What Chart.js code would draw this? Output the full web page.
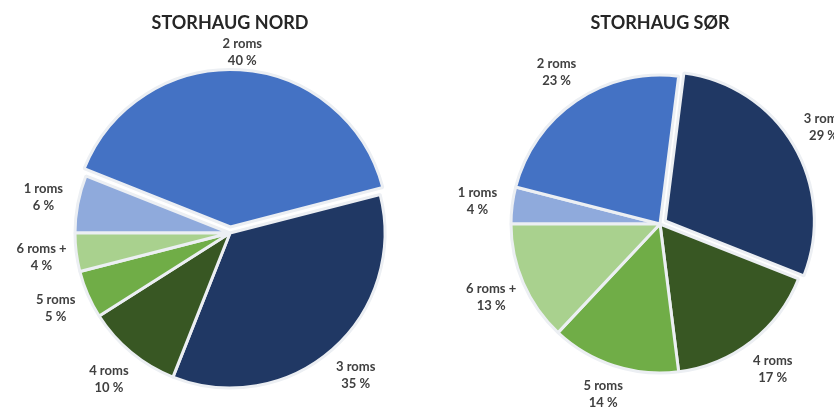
<!DOCTYPE html>
<html>
<head>
<meta charset="utf-8">
<script src="https://cdn.jsdelivr.net/npm/chart.js@4.4.0/dist/chart.umd.min.js"></script>
<style>
  body { margin: 0; background: #fff; overflow: hidden; }
  .wrap { position: absolute; top: 0; height: 408px; }
  #nordWrap { left: 0; width: 460px; }
  #sorWrap { left: 430px; width: 404px; }
</style>
</head>
<body>
<div class="wrap" id="nordWrap"><canvas id="nordChart"></canvas></div>
<div class="wrap" id="sorWrap"><canvas id="sorChart"></canvas></div>
<script>
var categories = ['1 roms', '2 roms', '3 roms', '4 roms', '5 roms', '6 roms +'];
var nordValues = [6, 40, 35, 10, 5, 4];
var sorValues = [4, 23, 29, 17, 14, 13];
var sliceColors = ['#8faadc', '#4472c4', '#203864', '#385723', '#70ad47', '#a9d18e'];

// labels outside each slice: name on one line, percent below
var sliceLabels = {
    id: 'sliceLabels',
    afterDatasetsDraw: function (chart) {
        var ctx = chart.ctx;
        var meta = chart.getDatasetMeta(0);
        var values = chart.data.datasets[0].data;
        ctx.save();
        ctx.font = 'bold 13px Lato';
        ctx.fillStyle = '#404040';
        ctx.textAlign = 'center';
        ctx.textBaseline = 'middle';
        meta.data.forEach(function (arc, i) {
            var p = arc.getProps(['x', 'y', 'startAngle', 'endAngle', 'outerRadius'], true);
            var mid = (p.startAngle + p.endAngle) / 2;
            var shift = (arc.options.offset || 0) / 4;
            var d = p.outerRadius + shift + 35;
            var cx = p.x + Math.cos(mid) * d;
            var cy = p.y + Math.sin(mid) * d;
            cy = Math.min(Math.max(cy, 52), 394); // keep inside the picture, below the title
            ctx.fillText(chart.data.labels[i], cx, cy - 8.5);
            ctx.fillText(values[i] + ' %', cx, cy + 8.5);
        });
        ctx.restore();
    }
};

function makePie(id, title, values, explodeIndex, radius, titleBottom, padLeft) {
    var ctx = document.getElementById(id).getContext('2d');
    return new Chart(ctx, {
        type: 'pie',
        data: {
            labels: categories,
            datasets: [{
                data: values,
                backgroundColor: sliceColors,
                borderColor: '#eceff3',
                borderWidth: 3,
                offset: values.map(function (v, i) { return i === explodeIndex ? 24 : 0; })
            }]
        },
        options: {
            responsive: true,
            maintainAspectRatio: false,
            animation: false,
            rotation: -90,
            radius: radius,
            layout: { padding: { left: padLeft, right: 0, top: 0, bottom: 0 } },
            plugins: {
                legend: { display: false },
                tooltip: { enabled: false },
                title: {
                    display: true,
                    text: title,
                    color: '#262626',
                    font: { family: 'Lato', size: 18, weight: 'bold', lineHeight: 1.2 },
                    padding: { top: 12, bottom: titleBottom }
                }
            }
        },
        plugins: [sliceLabels]
    });
}

makePie('nordChart', 'STORHAUG NORD', nordValues, 1, 155, 24.4, 0);
makePie('sorChart', 'STORHAUG SØR', sorValues, 2, 149, 6.4, 56);
</script>
</body>
</html>
